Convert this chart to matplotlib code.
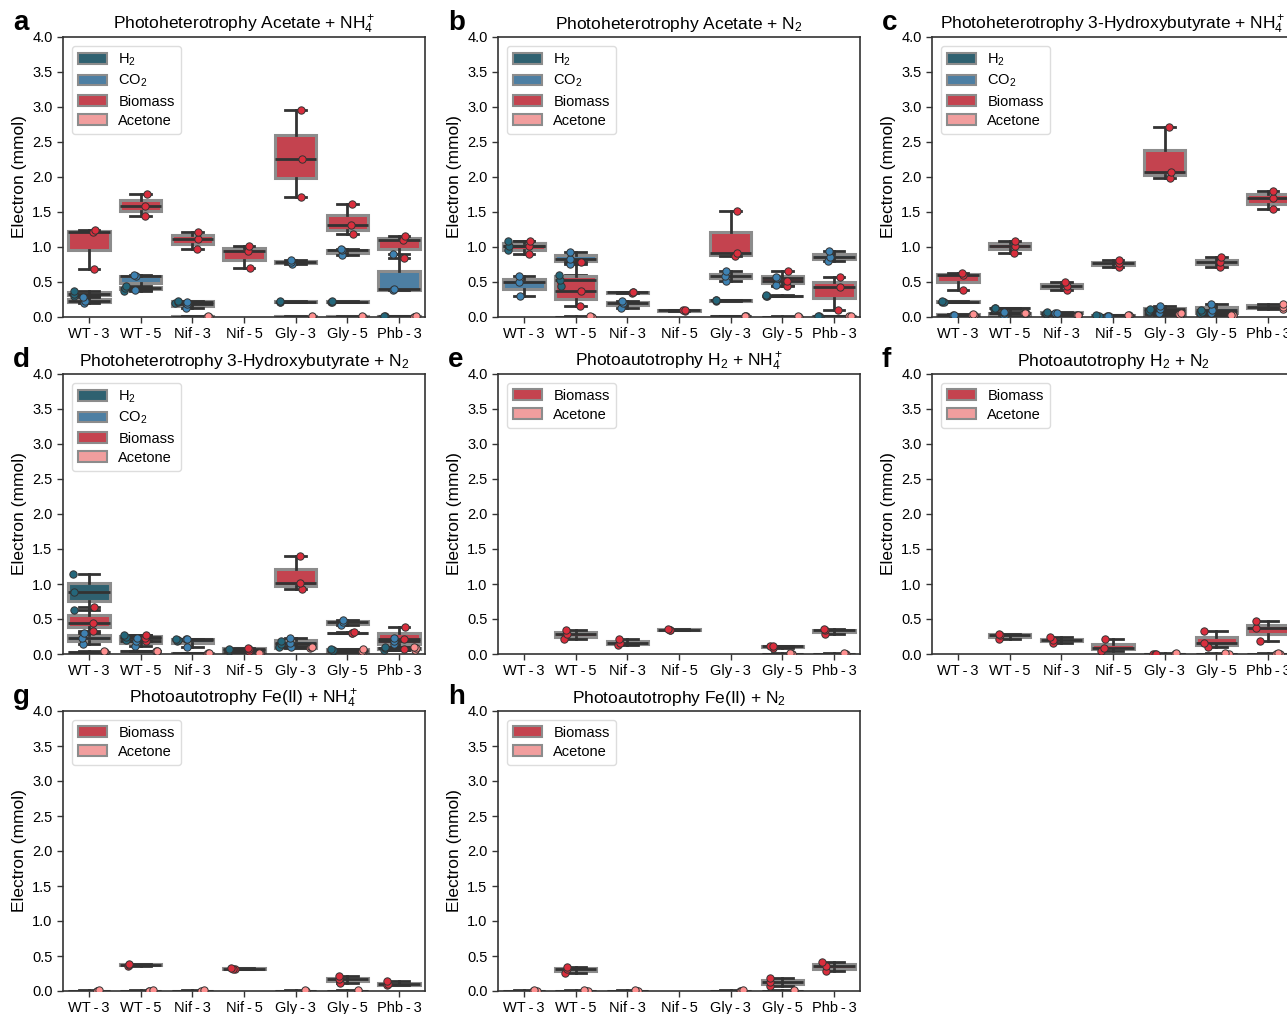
import colorsys
import numpy as np
import matplotlib
matplotlib.use("Agg")
import matplotlib.pyplot as plt
from matplotlib.patches import Patch
from matplotlib.colors import to_rgb

plt.rcParams.update({
    "font.family": ["Liberation Sans", "DejaVu Sans"],
    "mathtext.fontset": "custom",
    "mathtext.rm": "Liberation Sans",
    "mathtext.it": "Liberation Sans:italic",
    "mathtext.bf": "Liberation Sans:bold",
})

# ---------------------------------------------------------------- data
strains = ["WT-3", "WT-5", "Nif-3", "Nif-5", "Gly-3", "Gly-5", "Phb-3"]
ylabel = "Electron (mmol)"

# electrons (mmol), three replicates per strain; None = not measured
a_h2 = [[0.30, 0.33, 0.37], [0.37, 0.42, 0.44], [0.20, 0.22, 0.23], None,
        [0.22, 0.22, 0.23], [0.22, 0.22, 0.23], [0.00, 0.01, 0.01]]
a_co2 = [[0.20, 0.23, 0.28], [0.38, 0.58, 0.60], [0.13, 0.18, 0.22], None,
         [0.76, 0.79, 0.81], [0.89, 0.95, 0.97], [0.38, 0.40, 0.90]]
a_bio = [[0.69, 1.21, 1.24], [1.44, 1.59, 1.76], [0.97, 1.12, 1.22], [0.70, 0.94, 1.02],
         [1.71, 2.26, 2.95], [1.18, 1.31, 1.61], [0.84, 1.10, 1.16]]
a_ace = [None, None, [0.00, 0.005, 0.01], None,
         [0.00, 0.005, 0.01], [0.00, 0.005, 0.01], [0.00, 0.005, 0.01]]

b_h2 = [[0.95, 1.02, 1.08], [0.44, 0.53, 0.60], None, None,
        [0.23, 0.24, 0.24], [0.30, 0.30, 0.31], [0.00, 0.01, 0.01]]
b_co2 = [[0.30, 0.50, 0.58], [0.76, 0.83, 0.93], [0.13, 0.20, 0.23], None,
         [0.52, 0.58, 0.65], [0.46, 0.55, 0.57], [0.80, 0.86, 0.94]]
b_bio = [[0.90, 1.01, 1.09], [0.15, 0.37, 0.79], [0.34, 0.35, 0.35], [0.09, 0.095, 0.10],
         [0.87, 0.91, 1.51], [0.44, 0.52, 0.66], [0.10, 0.43, 0.57]]
b_ace = [None, [0.00, 0.00, 0.01], None, None,
         [0.01, 0.015, 0.02], [0.00, 0.00, 0.01], [0.00, 0.01, 0.01]]

c_h2 = [[0.21, 0.22, 0.23], [0.12, 0.13, 0.13], [0.04, 0.06, 0.07], [0.01, 0.02, 0.03],
        [0.07, 0.09, 0.11], [0.05, 0.07, 0.10], None]
c_co2 = [[0.02, 0.03, 0.03], [0.01, 0.05, 0.07], [0.04, 0.06, 0.06], [0.01, 0.02, 0.02],
         [0.06, 0.12, 0.15], [0.06, 0.10, 0.18], None]
c_bio = [[0.39, 0.60, 0.63], [0.92, 1.02, 1.08], [0.38, 0.44, 0.50], [0.72, 0.77, 0.81],
         [1.99, 2.07, 2.71], [0.72, 0.78, 0.85], [1.54, 1.70, 1.80]]
c_ace = [[0.03, 0.035, 0.04], [0.05, 0.055, 0.06], [0.02, 0.025, 0.03], [0.02, 0.025, 0.03],
         [0.03, 0.04, 0.05], [0.02, 0.025, 0.03], [0.12, 0.14, 0.19]]

d_h2 = [[0.63, 0.88, 1.14], [0.20, 0.24, 0.27], [0.19, 0.20, 0.21], [0.05, 0.06, 0.07],
        [0.10, 0.14, 0.18], [0.05, 0.06, 0.07], [0.06, 0.08, 0.10]]
d_co2 = [[0.14, 0.23, 0.30], [0.12, 0.19, 0.23], [0.10, 0.21, 0.22], None,
         [0.10, 0.16, 0.23], [0.41, 0.46, 0.49], [0.14, 0.19, 0.23]]
d_bio = [[0.33, 0.45, 0.67], [0.19, 0.23, 0.27], None, [0.05, 0.07, 0.09],
         [0.93, 1.02, 1.40], [0.30, 0.30, 0.31], [0.07, 0.21, 0.39]]
d_ace = [[0.03, 0.03, 0.04], [0.04, 0.05, 0.05], [0.00, 0.01, 0.01], [0.00, 0.01, 0.01],
         [0.09, 0.095, 0.10], [0.02, 0.04, 0.07], [0.06, 0.08, 0.10]]

e_bio = [None, [0.21, 0.29, 0.35], [0.13, 0.16, 0.22], [0.34, 0.35, 0.36], None,
         [0.08, 0.11, 0.12], [0.29, 0.34, 0.36]]
e_ace = [None, None, None, None, None, [0.00, 0.00, 0.01], [0.00, 0.00, 0.01]]

f_bio = [None, [0.22, 0.27, 0.29], [0.16, 0.20, 0.24], [0.05, 0.09, 0.21], [0.00, 0.00, 0.00],
         [0.10, 0.16, 0.33], [0.19, 0.37, 0.47]]
f_ace = [None, None, None, None, [0.00, 0.00, 0.01], [0.00, 0.00, 0.01], [0.00, 0.00, 0.01]]

g_bio = [None, [0.36, 0.37, 0.39], None, [0.31, 0.32, 0.33], None,
         [0.12, 0.17, 0.21], [0.08, 0.10, 0.14]]
g_ace = [[0.00, 0.00, 0.01], [0.00, 0.00, 0.01], [0.00, 0.00, 0.01], None,
         [0.00, 0.00, 0.01], [0.00, 0.00, 0.01], None]

h_bio = [None, [0.26, 0.31, 0.35], None, None, None,
         [0.07, 0.13, 0.18], [0.28, 0.36, 0.42]]
h_ace = [[0.00, 0.00, 0.01], [0.00, 0.00, 0.01], [0.00, 0.00, 0.01], None,
         [0.00, 0.00, 0.01], [0.00, 0.00, 0.01], None]

titles = [
    r"Photoheterotrophy Acetate + NH$_4^+$",
    r"Photoheterotrophy Acetate + N$_2$",
    r"Photoheterotrophy 3-Hydroxybutyrate + NH$_4^+$",
    r"Photoheterotrophy 3-Hydroxybutyrate + N$_2$",
    r"Photoautotrophy H$_2$ + NH$_4^+$",
    r"Photoautotrophy H$_2$ + N$_2$",
    r"Photoautotrophy Fe(II) + NH$_4^+$",
    r"Photoautotrophy Fe(II) + N$_2$",
]
letters = ["a", "b", "c", "d", "e", "f", "g", "h"]

# ---------------------------------------------------------------- style
series_labels = {"h2": r"H$_2$", "co2": r"CO$_2$", "bio": "Biomass", "ace": "Acetone"}
series_colors = {"h2": "#24677b", "co2": "#3e82b2", "bio": "#da2e3d", "ace": "#ff9090"}
EDGE = "#8c8c8c"
DARK = "#333333"
BOX_WIDTH = 0.8


def desaturate(color, prop=0.75):
    h, l, s = colorsys.rgb_to_hls(*to_rgb(color))
    return colorsys.hls_to_rgb(h, l, s * prop)


def draw_panel(ax, series, title, rng):
    # overlapping boxes, one per series, centred on each strain
    for key, data in series:
        face = desaturate(series_colors[key])
        for i, vals in enumerate(data):
            if vals is None:
                continue
            ax.boxplot([vals], positions=[i], widths=BOX_WIDTH, patch_artist=True,
                       showfliers=False, manage_ticks=False,
                       boxprops=dict(facecolor=face, edgecolor=EDGE, linewidth=2.2),
                       whiskerprops=dict(color=DARK, linewidth=2),
                       capprops=dict(color=DARK, linewidth=2),
                       medianprops=dict(color=DARK, linewidth=2),
                       zorder=2)
    # replicate points, dodged by series within each strain slot
    n = len(series)
    slot = BOX_WIDTH / n
    for j, (key, data) in enumerate(series):
        offset = -BOX_WIDTH / 2 + slot * (j + 0.5)
        for i, vals in enumerate(data):
            if vals is None:
                continue
            xs = i + offset + rng.uniform(-0.1 / n, 0.1 / n, len(vals))
            ax.scatter(xs, vals, s=28, color=series_colors[key], edgecolor="#333333",
                       linewidth=0.7, zorder=3)

    ax.set_xlim(-0.5, len(strains) - 0.5)
    ax.set_ylim(0, 4.0)
    ax.set_yticks(np.arange(0, 4.01, 0.5))
    ax.set_yticklabels([f"{v:.1f}" for v in np.arange(0, 4.01, 0.5)], fontsize=10.5)
    ax.set_xticks(range(len(strains)))
    ax.set_xticklabels([s.replace("-", "\u2009-\u2009") for s in strains], fontsize=10.5)
    ax.tick_params(direction="out", length=4, width=1, color=DARK)
    for sp in ax.spines.values():
        sp.set_color(DARK)
        sp.set_linewidth(1.2)
    ax.set_ylabel(ylabel, fontsize=12.5)
    ax.set_title(title, fontsize=12.5, pad=6)

    handles = [Patch(facecolor=desaturate(series_colors[k]), edgecolor=EDGE, linewidth=1.5,
                     label=series_labels[k]) for k, _ in series]
    leg = ax.legend(handles=handles, loc="upper left", fontsize=10.5, frameon=True,
                    fancybox=True, borderaxespad=0.6, labelspacing=0.35)
    leg.get_frame().set_edgecolor("#d5d5d5")


W, H = 1287, 1014
fig = plt.figure(figsize=(W / 100, H / 100), dpi=100)

col_left = [63, 498, 932]
row_top = [37, 374, 711]
ax_w, ax_h = 362, 280

panels = [
    [("h2", a_h2), ("co2", a_co2), ("bio", a_bio), ("ace", a_ace)],
    [("h2", b_h2), ("co2", b_co2), ("bio", b_bio), ("ace", b_ace)],
    [("h2", c_h2), ("co2", c_co2), ("bio", c_bio), ("ace", c_ace)],
    [("h2", d_h2), ("co2", d_co2), ("bio", d_bio), ("ace", d_ace)],
    [("bio", e_bio), ("ace", e_ace)],
    [("bio", f_bio), ("ace", f_ace)],
    [("bio", g_bio), ("ace", g_ace)],
    [("bio", h_bio), ("ace", h_ace)],
]

rng = np.random.default_rng(7)
for k, series in enumerate(panels):
    r, c = divmod(k, 3)
    left, top = col_left[c], row_top[r]
    ax = fig.add_axes([left / W, 1 - (top + ax_h) / H, ax_w / W, ax_h / H])
    draw_panel(ax, series, titles[k], rng)
    fig.text((left - 50) / W, 1 - (top - 7) / H, letters[k], fontsize=20,
             fontweight="bold", ha="left", va="baseline")

fig.savefig("out.png", dpi=100)
